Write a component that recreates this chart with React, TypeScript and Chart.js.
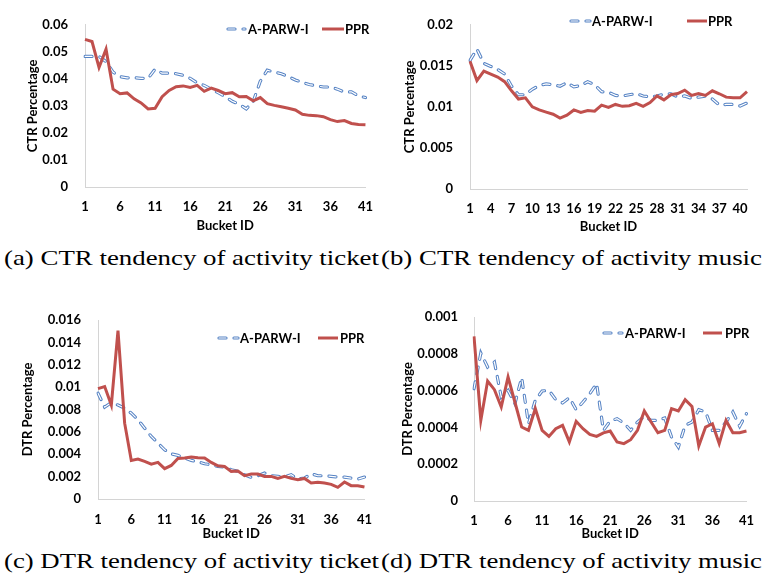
import React, { useEffect, useLayoutEffect, useRef, useState } from "react";
import { Chart, registerables } from "chart.js";

Chart.register(...registerables);

// ---------- data ----------
const bucketIds = [
  "1", "2", "3", "4", "5", "6", "7", "8", "9", "10",
  "11", "12", "13", "14", "15", "16", "17", "18", "19", "20",
  "21", "22", "23", "24", "25", "26", "27", "28", "29", "30",
  "31", "32", "33", "34", "35", "36", "37", "38", "39", "40", "41",
];

const ticketCtrApraw = [
  0.0483, 0.0483, 0.0483, 0.0464, 0.0425, 0.0408, 0.0404, 0.0404, 0.0402, 0.0402,
  0.0436, 0.0421, 0.0421, 0.0419, 0.0413, 0.0402, 0.0385, 0.0376, 0.0362, 0.0349,
  0.0334, 0.0317, 0.0306, 0.0289, 0.0317, 0.0391, 0.0432, 0.0425, 0.0419, 0.0408,
  0.0396, 0.0387, 0.0379, 0.0374, 0.037, 0.037, 0.0362, 0.0351, 0.0352, 0.0337, 0.0331,
];
const ticketCtrPpr = [
  0.0546, 0.0538, 0.0442, 0.051, 0.0362, 0.0345, 0.0348, 0.0326, 0.0311, 0.0289,
  0.0291, 0.0334, 0.0357, 0.0371, 0.0374, 0.0368, 0.0376, 0.0354, 0.0366, 0.0357,
  0.0345, 0.0349, 0.0334, 0.0335, 0.0319, 0.0331, 0.0308, 0.0302, 0.0297, 0.0291,
  0.0285, 0.0269, 0.0265, 0.0264, 0.026, 0.0249, 0.0242, 0.0246, 0.0235, 0.0231, 0.023,
];

const musicCtrApraw = [
  0.01567, 0.01704, 0.0153, 0.01493, 0.01456, 0.014, 0.01252, 0.01148, 0.01148, 0.01215,
  0.0126, 0.01281, 0.0127, 0.01252, 0.01296, 0.01244, 0.0126, 0.01307, 0.0127, 0.01185,
  0.01178, 0.0114, 0.01133, 0.01148, 0.01163, 0.01133, 0.01122, 0.01133, 0.01155, 0.0116,
  0.01122, 0.01133, 0.01104, 0.01119, 0.01133, 0.01096, 0.01022, 0.0103, 0.0103, 0.01011, 0.01048,
];
const musicCtrPpr = [
  0.01556, 0.0132, 0.01437, 0.014, 0.01363, 0.01307, 0.01196, 0.01096, 0.01111, 0.01,
  0.00963, 0.00937, 0.00911, 0.00863, 0.009, 0.00963, 0.00933, 0.00956, 0.00948, 0.01022,
  0.00993, 0.0103, 0.01007, 0.01015, 0.01044, 0.01007, 0.01052, 0.01133, 0.01085, 0.01148,
  0.01163, 0.01204, 0.0114, 0.01163, 0.0114, 0.01196, 0.0116, 0.01119, 0.01111, 0.01111, 0.01185,
];

const ticketDtrApraw = [
  0.00946, 0.00821, 0.00862, 0.0084, 0.00812, 0.00767, 0.00708, 0.00633, 0.00559, 0.005,
  0.0044, 0.00404, 0.0039, 0.00366, 0.00345, 0.00333, 0.00315, 0.00306, 0.00291, 0.00285,
  0.00262, 0.00247, 0.00217, 0.00193, 0.00208, 0.00232, 0.00208, 0.00202, 0.00196, 0.00217,
  0.00178, 0.00187, 0.00226, 0.00208, 0.00208, 0.00202, 0.00196, 0.00196, 0.00187, 0.00178, 0.00196,
];
const ticketDtrPpr = [
  0.00987, 0.01005, 0.0084, 0.01505, 0.00678, 0.00345, 0.00357, 0.00336, 0.00312, 0.00327,
  0.00271, 0.003, 0.00363, 0.00366, 0.00375, 0.00369, 0.00366, 0.00327, 0.00297, 0.00291,
  0.00247, 0.0025, 0.00208, 0.00223, 0.00223, 0.00202, 0.00202, 0.00184, 0.00202, 0.00184,
  0.00172, 0.00184, 0.00143, 0.00149, 0.00143, 0.00131, 0.00104, 0.00152, 0.00119, 0.00119, 0.00107,
];

const musicDtrApraw = [
  0.00061, 0.000804, 0.000728, 0.000755, 0.000565, 0.000601, 0.000529, 0.00067, 0.00042, 0.000547,
  0.000598, 0.000601, 0.000551, 0.000533, 0.000562, 0.000496, 0.000538, 0.000583, 0.000638, 0.000384,
  0.000435, 0.000447, 0.000424, 0.000384, 0.000429, 0.00046, 0.000438, 0.000438, 0.000451, 0.000348,
  0.000293, 0.000411, 0.000429, 0.000496, 0.000484, 0.000384, 0.000384, 0.000429, 0.000484, 0.000406, 0.000475,
];
const musicDtrPpr = [
  0.000895, 0.000438, 0.000652, 0.000605, 0.000511, 0.000674, 0.000538, 0.000402, 0.000384, 0.000502,
  0.000384, 0.000351, 0.000393, 0.000411, 0.000321, 0.000433, 0.000393, 0.000362, 0.000351, 0.00037,
  0.00038, 0.000321, 0.000312, 0.000333, 0.000384, 0.000489, 0.000429, 0.000371, 0.000384, 0.000502,
  0.000489, 0.000551, 0.000514, 0.000299, 0.000402, 0.00042, 0.000312, 0.000438, 0.000371, 0.000371, 0.00038,
];

const xTicksBy5 = ["1", "6", "11", "16", "21", "26", "31", "36", "41"];
const xTicksBy3 = ["1", "4", "7", "10", "13", "16", "19", "22", "25", "28", "31", "34", "37", "40"];

const yTicksTicketCtr = [0, 0.01, 0.02, 0.03, 0.04, 0.05, 0.06];
const yTicksMusicCtr = [0, 0.005, 0.01, 0.015, 0.02];
const yTicksTicketDtr = [0, 0.002, 0.004, 0.006, 0.008, 0.01, 0.012, 0.014, 0.016];
const yTicksMusicDtr = [0, 0.0002, 0.0004, 0.0006, 0.0008, 0.001];

const seriesNames = ["A-PARW-I", "PPR"];

const captions = [
  "(a) CTR tendency of activity ticket",
  "(b) CTR tendency of activity music",
  "(c) DTR tendency of activity ticket",
  "(d) DTR tendency of activity music",
];

// ---------- styles ----------
const FONT = "Lato, 'Open Sans', sans-serif";
const BLUE = "#5683C4";
const RED = "#C0504D";
const AXIS = "#d4d4d4";
const DASH = [7, 8];

type PanelCfg = {
  left: number;
  top: number;
  width: number;
  height: number;
  area: { l: number; t: number; r: number; b: number };
  padLeft: number;
  yPad: number;
  xPad: number;
  yTitle: string;
  yTicks: number[];
  xTicks: string[];
  apraw: number[];
  ppr: number[];
  legend: { y: number; dash: [number, number]; textA: number; line: [number, number]; textB: number };
};

const legendPlugin = {
  id: "insideLegend",
  afterDraw(chart: any, _args: any, opts: any) {
    const lg = opts.cfg;
    if (!lg) return;
    const ctx = chart.ctx as CanvasRenderingContext2D;
    ctx.save();
    ctx.lineCap = "round";
    ctx.setLineDash(DASH);
    ctx.strokeStyle = BLUE;
    ctx.lineWidth = 3.2;
    ctx.beginPath();
    ctx.moveTo(lg.dash[0], lg.y);
    ctx.lineTo(lg.dash[1], lg.y);
    ctx.stroke();
    ctx.strokeStyle = "#ffffff";
    ctx.lineWidth = 1.2;
    ctx.beginPath();
    ctx.moveTo(lg.dash[0], lg.y);
    ctx.lineTo(lg.dash[1], lg.y);
    ctx.stroke();
    ctx.setLineDash([]);
    ctx.lineCap = "butt";
    ctx.strokeStyle = RED;
    ctx.lineWidth = 3;
    ctx.beginPath();
    ctx.moveTo(lg.line[0], lg.y);
    ctx.lineTo(lg.line[1], lg.y);
    ctx.stroke();
    ctx.fillStyle = "#000";
    ctx.font = `bold 13px ${FONT}`;
    ctx.textBaseline = "middle";
    ctx.textAlign = "left";
    ctx.fillText(seriesNames[0], lg.textA, lg.y + 1);
    ctx.fillText(seriesNames[1], lg.textB, lg.y + 1);
    ctx.restore();
  },
};

const fmt = (v: number) => String(Number(Number(v).toPrecision(6)));

function Panel({ cfg }: { cfg: PanelCfg }) {
  const ref = useRef<HTMLCanvasElement | null>(null);
  useEffect(() => {
    if (!ref.current) return;
    const { area } = cfg;
    const chart = new Chart(ref.current, {
      type: "line",
      data: {
        labels: bucketIds,
        datasets: [
          {
            label: seriesNames[1],
            data: cfg.ppr,
            borderColor: RED,
            borderWidth: 3,
            pointRadius: 0,
            fill: false,
            tension: 0,
          },
          {
            label: seriesNames[0] + " inner",
            data: cfg.apraw,
            borderColor: "#ffffff",
            borderWidth: 1.2,
            borderDash: DASH,
            borderCapStyle: "round",
            pointRadius: 0,
            fill: false,
            tension: 0,
          },
          {
            label: seriesNames[0],
            data: cfg.apraw,
            borderColor: BLUE,
            borderWidth: 3.2,
            borderDash: DASH,
            borderCapStyle: "round",
            pointRadius: 0,
            fill: false,
            tension: 0,
          },
        ],
      },
      options: {
        animation: false,
        responsive: false,
        maintainAspectRatio: false,
        layout: {
          padding: { left: cfg.padLeft, top: area.t, right: cfg.width - area.r, bottom: 0 },
        },
        plugins: {
          legend: { display: false },
          tooltip: { enabled: false },
          insideLegend: { cfg: cfg.legend },
        } as any,
        scales: {
          x: {
            type: "category",
            offset: false,
            grid: { display: false, drawTicks: false },
            border: { display: true, color: AXIS, width: 1 },
            ticks: {
              autoSkip: false,
              maxRotation: 0,
              minRotation: 0,
              padding: cfg.xPad,
              color: "#000",
              font: { family: FONT, size: 13, weight: "bold" },
              callback: (_v: any, i: number) => (cfg.xTicks.includes(bucketIds[i]) ? bucketIds[i] : ""),
            },
            title: {
              display: true,
              text: "Bucket ID",
              color: "#000",
              padding: 0,
              font: { family: FONT, size: 13, weight: "bold" },
            },
            afterFit: (s: any) => {
              s.height = cfg.height - area.b;
            },
          },
          y: {
            type: "linear",
            min: cfg.yTicks[0],
            max: cfg.yTicks[cfg.yTicks.length - 1],
            grid: { display: false, drawTicks: false },
            border: { display: true, color: AXIS, width: 1 },
            ticks: {
              padding: cfg.yPad,
              color: "#000",
              font: { family: FONT, size: 13, weight: "bold" },
              callback: (v: any) => fmt(v),
            },
            afterBuildTicks: (s: any) => {
              s.ticks = cfg.yTicks.map((v) => ({ value: v }));
            },
            title: {
              display: true,
              text: cfg.yTitle,
              color: "#000",
              padding: 0,
              font: { family: FONT, size: 13, weight: "bold" },
            },
            afterFit: (s: any) => {
              s.width = area.l - cfg.padLeft;
            },
          },
        },
      } as any,
      plugins: [legendPlugin as any],
    });
    return () => chart.destroy();
  }, [cfg]);
  return (
    <canvas
      ref={ref}
      width={cfg.width}
      height={cfg.height}
      style={{ position: "absolute", left: cfg.left, top: cfg.top, width: cfg.width, height: cfg.height }}
    />
  );
}

const panels: PanelCfg[] = [
  {
    left: 0, top: 0, width: 385, height: 234,
    area: { l: 85, t: 10, r: 371, b: 187 },
    padLeft: 25, yPad: 17, xPad: 12,
    yTitle: "CTR Percentage", yTicks: yTicksTicketCtr, xTicks: xTicksBy5,
    apraw: ticketCtrApraw, ppr: ticketCtrPpr,
    legend: { y: 29, dash: [228, 245], textA: 248, line: [322, 344], textB: 345 },
  },
  {
    left: 385, top: 0, width: 381, height: 235,
    area: { l: 85, t: 9, r: 362, b: 189 },
    padLeft: 17, yPad: 17, xPad: 12,
    yTitle: "CTR Percentage", yTicks: yTicksMusicCtr, xTicks: xTicksBy3,
    apraw: musicCtrApraw, ppr: musicCtrPpr,
    legend: { y: 21, dash: [186, 205], textA: 207, line: [302, 322], textB: 323 },
  },
  {
    left: 0, top: 290, width: 385, height: 252,
    area: { l: 98, t: 30, r: 373, b: 209 },
    padLeft: 20, yPad: 17, xPad: 13,
    yTitle: "DTR Percentage", yTicks: yTicksTicketDtr, xTicks: xTicksBy5,
    apraw: ticketDtrApraw, ppr: ticketDtrPpr,
    legend: { y: 48, dash: [219, 238], textA: 240, line: [318, 338], textB: 340 },
  },
  {
    left: 385, top: 290, width: 381, height: 252,
    area: { l: 89, t: 27, r: 364, b: 211 },
    padLeft: 15, yPad: 16, xPad: 12,
    yTitle: "DTR Percentage", yTicks: yTicksMusicDtr, xTicks: xTicksBy5,
    apraw: musicDtrApraw, ppr: musicDtrPpr,
    legend: { y: 43, dash: [219, 237], textA: 240, line: [318, 337], textB: 340 },
  },
];

function Caption({ text, left, top, width }: { text: string; left: number; top: number; width: number }) {
  const ref = useRef<HTMLSpanElement | null>(null);
  const [scale, setScale] = useState(1);
  useLayoutEffect(() => {
    if (ref.current) {
      const w = ref.current.getBoundingClientRect().width;
      if (w > 0) setScale(width / w);
    }
  }, [text, width]);
  return (
    <div style={{ position: "absolute", left, top, transform: `scaleX(${scale})`, transformOrigin: "0 0" }}>
      <span
        ref={ref}
        style={{
          fontFamily: "'Liberation Serif', 'Times New Roman', serif",
          fontSize: 21,
          lineHeight: "24px",
          whiteSpace: "nowrap",
          color: "#000",
          display: "inline-block",
        }}
      >
        {text}
      </span>
    </div>
  );
}

export default function App() {
  return (
    <div style={{ position: "absolute", left: 0, top: 0, width: 766, height: 583, background: "#fff", overflow: "hidden" }}>
      {panels.map((p, i) => (
        <Panel key={i} cfg={p} />
      ))}
      <Caption text={captions[0]} left={4} top={246} width={375} />
      <Caption text={captions[1]} left={381} top={246} width={381} />
      <Caption text={captions[2]} left={4} top={549} width={375} />
      <Caption text={captions[3]} left={381} top={549} width={381} />
    </div>
  );
}
